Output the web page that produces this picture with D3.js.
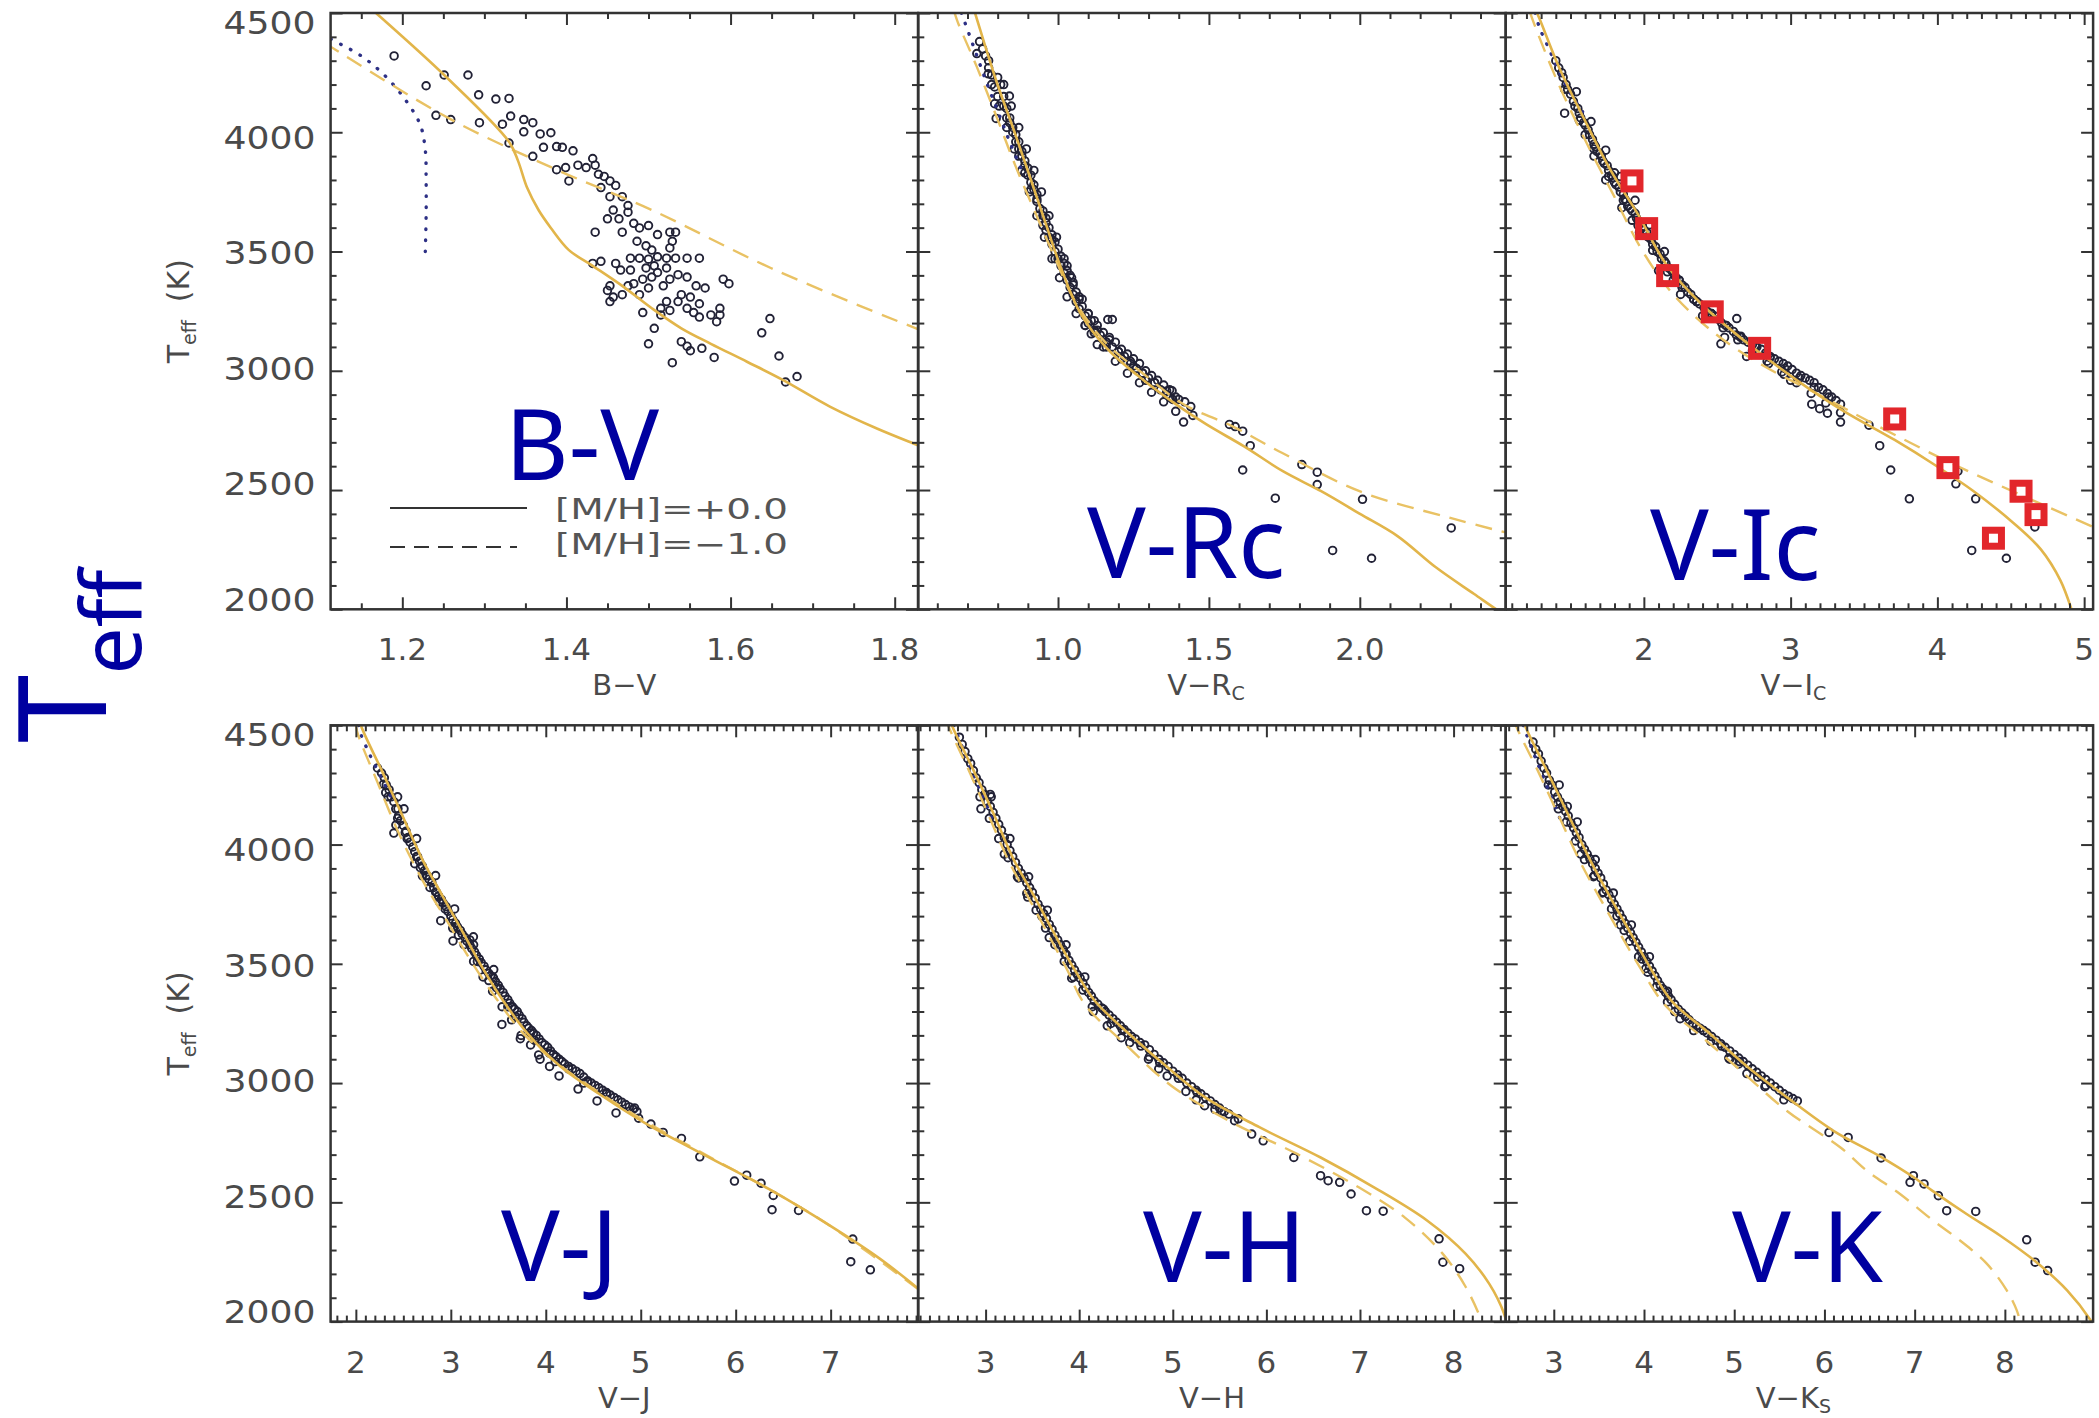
<!DOCTYPE html>
<html><head><meta charset="utf-8">
<script src="https://cdn.jsdelivr.net/npm/d3@7"></script>
<style>body{margin:0;background:#fff;} svg{display:block;}</style>
</head><body>
<svg id="c" width="2099" height="1418"></svg>
<script>
// ---------------- DATA ----------------
const yTicks = [2000, 2500, 3000, 3500, 4000, 4500];
const yTickLabels = ["2000", "2500", "3000", "3500", "4000", "4500"];

const bvTicks = [1.2, 1.4, 1.6, 1.8];
const bvTickLabels = ["1.2", "1.4", "1.6", "1.8"];
const vrTicks = [1.0, 1.5, 2.0];
const vrTickLabels = ["1.0", "1.5", "2.0"];
const viTicks = [2, 3, 4, 5];
const viTickLabels = ["2", "3", "4", "5"];
const vjTicks = [2, 3, 4, 5, 6, 7];
const vjTickLabels = ["2", "3", "4", "5", "6", "7"];
const vhTicks = [3, 4, 5, 6, 7, 8];
const vhTickLabels = ["3", "4", "5", "6", "7", "8"];
const vkTicks = [3, 4, 5, 6, 7, 8];
const vkTickLabels = ["3", "4", "5", "6", "7", "8"];

const legendLabels = ["[M/H]=+0.0", "[M/H]=\u22121.0"];

// B-V
const bvStars = [[1.190,4320],[1.229,4195],[1.241,4071],[1.251,4240],[1.259,4053],[1.280,4240],[1.293,4157],[1.294,4040],[1.314,4139],[1.330,4142],[1.332,4068],[1.322,4034],[1.330,3955],[1.348,4053],[1.348,4002],[1.359,4040],[1.368,3993],[1.372,3937],[1.381,3998],[1.388,3940],[1.395,3937],[1.399,3852],[1.408,3922],[1.359,3899],[1.388,3843],[1.403,3796],[1.414,3862],[1.424,3852],[1.432,3890],[1.435,3862],[1.439,3824],[1.446,3815],[1.453,3796],[1.460,3777],[1.442,3768],[1.453,3730],[1.468,3730],[1.475,3693],[1.457,3674],[1.450,3637],[1.464,3637],[1.475,3665],[1.435,3581],[1.468,3581],[1.482,3618],[1.489,3599],[1.500,3609],[1.511,3571],[1.526,3581],[1.533,3581],[1.486,3543],[1.497,3524],[1.504,3506],[1.526,3515],[1.529,3543],[1.478,3472],[1.489,3472],[1.500,3468],[1.511,3478],[1.522,3472],[1.533,3472],[1.547,3472],[1.562,3472],[1.432,3450],[1.442,3459],[1.460,3450],[1.466,3422],[1.478,3422],[1.497,3431],[1.507,3440],[1.511,3412],[1.522,3431],[1.504,3393],[1.493,3384],[1.482,3365],[1.475,3356],[1.453,3356],[1.450,3337],[1.457,3309],[1.468,3319],[1.453,3290],[1.489,3319],[1.500,3347],[1.518,3356],[1.526,3384],[1.536,3403],[1.547,3393],[1.558,3356],[1.569,3347],[1.591,3384],[1.598,3365],[1.540,3319],[1.551,3309],[1.562,3281],[1.547,3262],[1.555,3244],[1.562,3225],[1.576,3234],[1.587,3262],[1.583,3206],[1.515,3262],[1.526,3253],[1.493,3244],[1.507,3178],[1.515,3234],[1.522,3290],[1.536,3290],[1.500,3113],[1.529,3034],[1.540,3122],[1.547,3103],[1.551,3084],[1.565,3094],[1.580,3056],[1.587,3234],[1.638,3159],[1.648,3219],[1.659,3062],[1.667,2953],[1.681,2976]];
const bvSolid = [[1.155,4540],[1.168,4500],[1.251,4240],[1.330,3960],[1.341,3880],[1.352,3768],[1.366,3674],[1.381,3599],[1.403,3506],[1.432,3440],[1.468,3356],[1.504,3262],[1.540,3178],[1.576,3113],[1.620,3038],[1.663,2963],[1.721,2850],[1.779,2757],[1.826,2691],[1.845,2665]];
const bvDashed = [[1.105,4375],[1.119,4345],[1.257,4058],[1.388,3843],[1.504,3674],[1.649,3431],[1.826,3178],[1.845,3155]];
const bvDotted = [[1.113,4390],[1.150,4320],[1.180,4233],[1.205,4130],[1.222,4030],[1.228,3925],[1.229,3800],[1.229,3650],[1.228,3500]];

// V-Rc
const vrStars = [[0.731,4330],[0.769,4245],[0.839,4152],[0.795,4058],[0.74,4380],[0.76,4320],[0.77,4300],[0.78,4240],[0.80,4230],[0.81,4200],[0.79,4120],[0.82,4150],[0.83,4100],[0.84,4060],[0.85,4020],[0.86,3990],[0.87,3960],[0.87,3930],[0.88,3900],[0.89,3880],[0.90,3850],[0.90,3820],[0.91,3790],[0.92,3760],[0.93,3740],[0.93,3710],[0.94,3680],[0.95,3650],[0.96,3620],[0.96,3590],[0.97,3560],[0.98,3530],[0.99,3500],[1.00,3470],[1.01,3440],[1.02,3410],[1.03,3380],[1.04,3350],[1.05,3320],[1.06,3290],[1.07,3260],[1.09,3230],[1.10,3200],[1.12,3170],[1.14,3150],[1.16,3120],[1.18,3100],[1.20,3080],[1.22,3060],[1.24,3040],[1.26,3010],[1.28,2990],[1.30,2970],[1.32,2950],[1.34,2920],[1.36,2900],[1.38,2880],[1.05,3370],[1.08,3300],[0.95,3610],[0.99,3470],[1.12,3210],[1.15,3100],[1.21,3050],[1.25,3020],[1.29,2960],[1.13,3110],[0.98,3550],[1.03,3420],[0.89,3830],[0.91,3760],[0.83,4060],[0.87,3900],[1.17,3130],[1.11,3155],[1.09,3190],[1.165,3215],[1.18,3215],[1.568,2775],[1.587,2766],[1.612,2747],[1.637,2686],[1.612,2584],[1.720,2466],[1.808,2607],[1.859,2575],[1.859,2523],[1.910,2247],[2.009,2461],[2.039,2214],[2.303,2341],[1.416,2785],[1.447,2813],[1.378,2916],[1.371,2888],
  [0.75,4350],[0.77,4270],[0.79,4190],[0.80,4150],[0.82,4110],[0.84,4040],[0.85,4000],[0.86,3960],[0.88,3920],[0.89,3860],[0.91,3820],[0.92,3780],[0.93,3720],[0.95,3670],[0.96,3640],[0.97,3600],[0.98,3570],[0.99,3540],[1.00,3510],[1.01,3480],[1.02,3450],[1.03,3440],[1.04,3400],[1.05,3360],[1.06,3330],[1.07,3300],[1.08,3270],[1.10,3240],[1.11,3210],[1.13,3190],[1.15,3160],[1.17,3140],[1.19,3120],[1.21,3090],[1.23,3070],[1.25,3050],[1.27,3030],[1.29,3000],[1.31,2980],[1.33,2960],[1.35,2940],[1.37,2920],[1.39,2890],[1.42,2870],[1.44,2850],
  [0.78,4200],[0.805,4110],[0.83,4020],[0.855,3930],[0.88,3840],[0.905,3750],[0.93,3650],[0.955,3560],[0.98,3470],[1.005,3390],[1.03,3310],[1.06,3240],[1.09,3190],[1.12,3160],[1.16,3120],[1.20,3080],[1.24,3030],[1.28,2990],[1.32,2950],[1.36,2915],[1.40,2880],
  [0.82,4200],[0.845,4110],[0.87,4020],[0.895,3930],[0.92,3840],[0.945,3750],[0.97,3650],[0.995,3560],[1.02,3470],[1.045,3390],[1.07,3310],[1.10,3240],[1.13,3170],[1.16,3100],[1.19,3040],[1.23,2990],[1.27,2950],[1.31,2910],[1.35,2870],[1.39,2830]];
const vrSolid = [[0.715,4540],[0.725,4500],[0.795,4217],[0.858,3993],[0.909,3805],[0.959,3618],[1.010,3431],[1.073,3244],[1.162,3094],[1.263,2981],[1.390,2860],[1.492,2775],[1.618,2682],[1.745,2579],[1.872,2495],[1.999,2401],[2.125,2307],[2.252,2176],[2.379,2064],[2.465,1989],[2.49,1970]];
const vrDashed = [[0.655,4510],[0.668,4461],[0.731,4274],[0.807,4030],[0.858,3862],[0.921,3674],[0.985,3487],[1.061,3281],[1.162,3113],[1.289,2981],[1.416,2860],[1.580,2766],[1.745,2654],[1.999,2495],[2.303,2382],[2.49,2320]];
const vrDotted = [[0.68,4500],[0.72,4360],[0.76,4220],[0.80,4090],[0.84,3960],[0.88,3840]];

// V-Ic
const viStars = [[1.42,4270],[1.45,4230],[1.48,4180],[1.52,4130],[1.55,4100],[1.57,4060],[1.60,4030],[1.63,3990],[1.66,3950],[1.68,3920],[1.71,3900],[1.73,3870],[1.76,3840],[1.79,3810],[1.81,3780],[1.84,3750],[1.87,3720],[1.89,3690],[1.92,3670],[1.95,3640],[1.98,3620],[2.00,3590],[2.03,3560],[2.06,3530],[2.09,3500],[2.12,3470],[2.15,3450],[2.19,3420],[2.22,3390],[2.26,3360],[2.30,3330],[2.34,3300],[2.38,3280],[2.43,3250],[2.48,3230],[2.53,3200],[2.58,3180],[2.63,3150],[2.68,3130],[2.74,3110],[2.80,3090],[2.86,3060],[2.92,3040],[2.98,3020],[3.04,2990],[3.10,2970],[3.16,2950],[3.22,2920],[3.28,2890],[3.34,2860],[1.46,4080],[1.66,3900],[1.80,3830],[1.85,3684],[1.92,3631],[2.10,3420],[2.25,3320],[2.40,3230],[2.525,3113],[2.633,3219],[2.955,2985],[3.144,2860],[2.70,3060],[3.00,2960],[2.20,3380],[1.97,3580],[1.74,3800],[1.60,3990],[2.55,3140],[2.85,3030],[3.340,2785],[3.534,2772],[3.607,2686],[3.682,2584],[3.809,2463],[4.126,2526],[4.261,2463],[4.234,2247],[4.470,2214],[4.664,2345],[4.140,2579],[3.198,2841],[3.251,2822],
  [1.40,4300],[1.44,4250],[1.47,4200],[1.50,4160],[1.53,4110],[1.56,4080],[1.59,4040],[1.62,4010],[1.65,3970],[1.67,3940],[1.70,3910],[1.72,3880],[1.75,3860],[1.78,3820],[1.80,3790],[1.83,3770],[1.86,3740],[1.88,3710],[1.91,3680],[1.94,3660],[1.96,3630],[1.99,3600],[2.02,3580],[2.05,3550],[2.08,3520],[2.11,3490],[2.14,3460],[2.17,3430],[2.21,3400],[2.24,3380],[2.28,3350],[2.32,3320],[2.36,3290],[2.41,3265],[2.46,3240],[2.51,3215],[2.56,3190],[2.61,3165],[2.66,3140],[2.71,3120],[2.77,3100],[2.83,3075],[2.89,3050],[2.95,3030],[3.01,3005],[3.07,2980],[3.13,2960],[3.19,2930],[3.25,2905],[3.31,2875],
  [1.46,4180],[1.56,4050],[1.66,3930],[1.76,3815],[1.86,3715],[1.96,3610],[2.06,3505],[2.16,3415],[2.26,3350],[2.36,3290],[2.46,3240],[2.56,3190],[2.66,3145],[2.76,3100],[2.86,3055],[2.96,3010],[3.06,2970],[3.16,2930],[3.26,2890],
  [1.54,4170],[1.64,4045],[1.74,3925],[1.84,3815],[1.94,3715],[2.04,3612],[2.14,3500],[2.24,3380],[2.34,3300],[2.44,3240],[2.54,3180],[2.64,3130],[2.74,3085],[2.84,3040],[2.94,2995],[3.04,2950],[3.14,2905],[3.24,2865],[3.34,2825]];
const viSolid = [[1.25,4530],[1.287,4479],[1.421,4274],[1.583,4068],[1.771,3843],[1.960,3656],[2.148,3450],[2.390,3281],[2.713,3112],[3.036,2963],[3.359,2832],[3.709,2710],[3.978,2607],[4.247,2495],[4.516,2363],[4.705,2251],[4.839,2120],[4.920,1989],[4.93,1970]];
const viDashed = [[1.22,4510],[1.260,4442],[1.421,4199],[1.610,3955],[1.798,3731],[1.987,3506],[2.202,3319],[2.498,3150],[2.821,3019],[3.171,2907],[3.574,2775],[4.113,2607],[4.651,2457],[5.08,2340]];
const viDotted = [[1.26,4500],[1.287,4442],[1.354,4349],[1.421,4255],[1.502,4161],[1.583,4086]];
const viSquares = [[1.919,3796],[2.019,3596],[2.162,3399],[2.466,3247],[2.789,3094],[3.709,2798],[4.072,2594],[4.570,2495],[4.672,2397],[4.382,2298]];

// V-J
const vjStars = [[2.228,4321],[2.292,4253],[2.314,4218],[2.443,4150],[2.507,4150],[2.421,4082],[2.400,4048],[2.529,4056],[2.679,3903],[2.701,3869],[2.872,3783],[2.894,3681],[3.023,3596],[3.238,3613],[3.452,3476],[3.538,3246],[3.732,3186],[3.925,3118],[4.935,2896],[4.978,2853],[5.107,2828],[5.236,2793],[5.429,2768],[5.622,2691],[5.987,2589],[6.116,2614],[6.267,2580],[6.396,2529],[6.383,2469],[6.662,2466],[7.233,2346],[7.212,2251],[7.418,2217],[2.30,4280],[2.35,4230],[2.40,4180],[2.45,4120],[2.50,4080],[2.55,4030],[2.60,3990],[2.65,3950],[2.70,3910],[2.75,3870],[2.80,3840],[2.85,3800],[2.90,3770],[2.95,3740],[3.00,3700],[3.05,3670],[3.10,3640],[3.15,3610],[3.20,3580],[3.25,3550],[3.30,3520],[3.35,3490],[3.40,3460],[3.45,3440],[3.50,3410],[3.55,3380],[3.60,3350],[3.65,3320],[3.70,3300],[3.75,3270],[3.80,3240],[3.85,3220],[3.90,3200],[3.96,3170],[4.02,3150],[4.08,3120],[4.14,3100],[4.20,3080],[4.28,3060],[4.36,3040],[4.44,3010],[4.52,2990],[4.60,2970],[4.68,2950],[4.76,2930],[4.84,2910],[4.92,2890],[2.62,3920],[2.88,3760],[3.08,3620],[3.28,3510],[3.48,3400],[3.68,3280],[3.88,3180],[4.10,3090],[4.40,3000],[3.20,3600],[3.02,3650],[2.78,3820],[3.40,3430],[3.60,3320],
  [2.27,4300],[2.32,4250],[2.37,4200],[2.42,4150],[2.47,4100],[2.52,4050],[2.57,4010],[2.62,3970],[2.67,3930],[2.72,3890],[2.77,3855],[2.82,3820],[2.87,3785],[2.92,3755],[2.97,3720],[3.02,3685],[3.07,3655],[3.12,3625],[3.17,3595],[3.22,3565],[3.27,3535],[3.32,3505],[3.37,3475],[3.42,3450],[3.47,3425],[3.52,3395],[3.57,3365],[3.62,3335],[3.67,3310],[3.72,3285],[3.77,3255],[3.82,3230],[3.87,3210],[3.93,3185],[3.99,3160],[4.05,3135],[4.11,3110],[4.17,3090],[4.24,3070],[4.32,3050],[4.40,3025],[4.48,3000],[4.56,2980],[4.64,2960],[4.72,2940],[4.80,2920],[4.88,2900],[4.96,2880],
  [2.34,4200],[2.54,4025],[2.74,3870],[2.94,3730],[3.14,3580],[3.34,3445],[3.54,3320],[3.74,3200],[3.94,3100],[4.14,3030],[4.34,2975],[4.54,2925],[4.74,2875],[2.44,4110],[2.64,3950],[2.84,3800],[3.04,3655],[3.24,3510],[3.44,3385],[3.64,3265],[3.84,3160],[4.04,3070],
  [2.44,4200],[2.64,4025],[2.84,3870],[3.04,3730],[3.24,3580],[3.44,3445],[3.64,3320],[3.84,3210],[4.04,3125],[4.24,3060],[4.44,3005],[4.64,2955]];
const vjSolid = [[2.04,4530],[2.056,4497],[2.271,4312],[2.486,4125],[2.701,3937],[2.915,3783],[3.130,3630],[3.345,3476],[3.560,3340],[3.818,3203],[4.161,3067],[4.591,2947],[5.064,2828],[5.708,2691],[6.353,2555],[6.997,2401],[7.513,2265],[7.95,2130]];
const vjDashed = [[2.00,4510],[2.013,4474],[2.228,4261],[2.443,4056],[2.701,3851],[2.958,3681],[3.216,3510],[3.474,3357],[3.775,3203],[4.118,3084],[4.548,2964],[5.064,2836],[5.708,2694],[6.353,2555],[6.997,2401],[7.95,2128]];
const vjDotted = [[2.03,4500],[2.034,4483],[2.142,4381],[2.271,4278],[2.378,4193]];

// V-H
const vhStars = [[2.75,4420],[2.81,4360],[2.87,4310],[2.93,4260],[2.99,4210],[3.05,4160],[3.11,4110],[3.17,4060],[3.23,4000],[3.29,3950],[3.35,3900],[3.41,3860],[3.47,3820],[3.53,3775],[3.59,3730],[3.65,3690],[3.71,3645],[3.77,3600],[3.83,3560],[3.89,3515],[3.95,3475],[4.01,3440],[4.07,3400],[4.13,3365],[4.20,3330],[4.28,3300],[4.36,3270],[4.44,3240],[4.52,3210],[4.60,3185],[4.70,3160],[4.80,3120],[4.90,3085],[5.00,3050],[5.10,3020],[5.20,2985],[5.30,2955],[5.40,2925],[5.50,2895],[5.60,2870],[5.70,2850],[2.95,4150],[3.20,3960],[3.45,3780],[3.68,3610],[3.92,3440],[4.15,3300],[4.45,3190],[4.85,3060],[5.25,2930],[3.05,4210],[3.35,3860],[3.60,3700],[3.85,3540],[4.30,3240],[4.75,3110],[5.45,2890],[5.66,2842],[5.52,2883],[5.843,2786],[5.966,2758],[6.293,2688],[6.579,2612],[6.660,2591],[6.783,2584],[6.905,2535],[7.069,2465],[7.248,2463],[7.845,2347],[7.886,2249],[8.065,2222],
  [2.72,4450],[2.78,4390],[2.84,4340],[2.90,4280],[2.96,4230],[3.02,4180],[3.08,4135],[3.14,4085],[3.20,4030],[3.26,3975],[3.32,3925],[3.38,3880],[3.44,3840],[3.50,3800],[3.56,3750],[3.62,3710],[3.68,3665],[3.74,3620],[3.80,3580],[3.86,3540],[3.92,3495],[3.98,3455],[4.04,3420],[4.10,3380],[4.16,3345],[4.24,3315],[4.32,3285],[4.40,3255],[4.48,3225],[4.56,3195],[4.65,3170],[4.75,3140],[4.85,3100],[4.95,3070],[5.05,3035],[5.15,3000],[5.25,2970],[5.35,2940],[5.45,2910],[5.55,2880],
  [2.94,4200],[3.14,4025],[3.34,3865],[3.54,3725],[3.74,3580],[3.94,3445],[4.14,3320],[4.34,3250],[4.54,3170],[4.74,3100],[4.94,3030],[5.14,2965],[5.34,2905],[3.04,4110],[3.24,3945],[3.44,3795],[3.64,3650],[3.84,3510],[4.04,3390],
  [3.06,4200],[3.26,4025],[3.46,3865],[3.66,3725],[3.86,3580],[4.06,3445],[4.26,3310],[4.46,3225],[4.66,3155],[4.86,3085],[5.06,3020],[5.26,2960]];
const vhSolid = [[2.62,4530],[2.64,4500],[2.87,4312],[3.09,4125],[3.30,3937],[3.52,3783],[3.73,3630],[3.95,3476],[4.17,3343],[4.54,3204],[4.95,3064],[5.35,2939],[5.93,2814],[6.58,2688],[7.15,2563],[7.72,2423],[8.13,2284],[8.38,2159],[8.54,2033],[8.57,1985]];
const vhDashed = [[2.58,4530],[2.60,4500],[2.82,4312],[3.03,4125],[3.24,3937],[3.45,3783],[3.66,3630],[3.87,3476],[4.06,3330],[4.50,3160],[4.98,2990],[5.598,2842],[6.333,2702],[6.987,2563],[7.477,2437],[7.885,2284],[8.130,2145],[8.294,2005],[8.30,1985]];
const vhDotted = [[2.66,4500],[2.80,4360],[2.95,4220],[3.10,4080]];

// V-Ks
const vkStars = [[2.80,4400],[2.86,4350],[2.92,4300],[2.98,4250],[3.04,4200],[3.10,4160],[3.16,4120],[3.22,4070],[3.28,4030],[3.34,3980],[3.40,3940],[3.46,3900],[3.52,3860],[3.58,3810],[3.64,3770],[3.70,3730],[3.76,3690],[3.82,3650],[3.88,3610],[3.94,3570],[4.00,3530],[4.06,3490],[4.12,3450],[4.18,3410],[4.24,3380],[4.30,3350],[4.38,3310],[4.46,3280],[4.54,3250],[4.62,3230],[4.70,3210],[4.80,3180],[4.90,3150],[5.00,3120],[5.10,3090],[5.20,3060],[5.30,3030],[5.40,3000],[5.50,2970],[5.60,2945],[5.70,2925],[3.05,4150],[3.30,3960],[3.55,3800],[3.78,3640],[4.02,3480],[4.26,3340],[4.55,3220],[4.95,3100],[5.35,2990],[3.15,4160],[3.45,3870],[3.70,3700],[3.98,3520],[4.40,3270],[5.05,3080],[5.55,2930],[6.051,2793],[6.263,2772],[6.628,2686],[6.986,2612],[6.949,2584],[7.104,2577],[7.263,2528],[7.355,2465],[7.677,2462],[8.242,2343],[8.335,2249],[8.475,2214],
  [2.77,4430],[2.83,4380],[2.89,4320],[2.95,4270],[3.01,4220],[3.07,4180],[3.13,4140],[3.19,4090],[3.25,4050],[3.31,4000],[3.37,3960],[3.43,3920],[3.49,3880],[3.55,3835],[3.61,3790],[3.67,3750],[3.73,3710],[3.79,3670],[3.85,3630],[3.91,3590],[3.97,3550],[4.03,3510],[4.09,3470],[4.15,3430],[4.21,3395],[4.27,3365],[4.34,3330],[4.42,3295],[4.50,3265],[4.58,3240],[4.66,3220],[4.75,3195],[4.85,3165],[4.95,3135],[5.05,3105],[5.15,3075],[5.25,3045],[5.35,3015],[5.45,2985],[5.55,2955],[5.65,2935],
  [2.94,4250],[3.14,4095],[3.34,3937],[3.54,3797],[3.74,3663],[3.94,3530],[4.14,3405],[4.34,3300],[4.54,3245],[4.74,3175],[4.94,3105],[5.14,3040],[5.34,2985],[3.04,4170],[3.24,4015],[3.44,3865],[3.64,3730],[3.84,3595],[4.04,3465],
  [3.06,4250],[3.26,4095],[3.46,3937],[3.66,3797],[3.86,3663],[4.06,3530],[4.26,3385],[4.46,3280],[4.66,3220],[4.86,3155],[5.06,3090],[5.26,3025]];
const vkSolid = [[2.66,4530],[2.68,4500],[2.92,4312],[3.16,4125],[3.40,3937],[3.62,3783],[3.85,3630],[4.08,3476],[4.31,3343],[4.74,3204],[5.16,3064],[5.59,2939],[6.10,2800],[6.63,2690],[6.99,2605],[7.21,2545],[7.58,2450],[7.95,2360],[8.33,2255],[8.69,2131],[8.95,2006],[8.98,1985]];
const vkDashed = [[2.56,4530],[2.58,4500],[2.82,4312],[3.05,4125],[3.28,3937],[3.50,3783],[3.73,3630],[3.97,3476],[4.229,3329],[4.653,3190],[5.076,3051],[5.585,2883],[6.178,2730],[6.469,2633],[6.838,2535],[7.207,2423],[7.503,2340],[7.799,2243],[8.021,2131],[8.132,2047],[8.168,1998],[8.17,1985]];
const vkDotted = [[2.66,4500],[2.80,4360],[2.95,4220],[3.10,4080]];

// ---------------- LAYOUT / STYLE ----------------
const W = 587.4, H = 596.3;
const lefts = [330.6, 918.3, 1505.7];
const tops = [13, 725.3];
const GOLD = "#E2B54A", GOLD2 = "#E9C264", INK = "#333", LBL = "#4a4a4a", BLUE = "#0000A0";

const panels = [
  {row:0,col:0,xd:[1.1126,1.8284],stars:bvStars,solid:bvSolid,dashed:bvDashed,dotted:bvDotted,ticks:bvTicks,tl:bvTickLabels,minor:0.05,title:["B\u2212V",""],big:"B-V",bx:505,by:480},
  {row:0,col:1,xd:[0.537,2.4835],stars:vrStars,solid:vrSolid,dashed:vrDashed,dotted:vrDotted,ticks:vrTicks,tl:vrTickLabels,minor:0.1,title:["V\u2212R","C"],big:"V-Rc",bx:1087,by:578},
  {row:0,col:2,xd:[1.0586,5.061],stars:viStars,solid:viSolid,dashed:viDashed,dotted:viDotted,ticks:viTicks,tl:viTickLabels,minor:0.1,title:["V\u2212I","C"],big:"V-Ic",bx:1650,by:580,squares:viSquares},
  {row:1,col:0,xd:[1.734,7.92],stars:vjStars,solid:vjSolid,dashed:vjDashed,dotted:vjDotted,ticks:vjTicks,tl:vjTickLabels,minor:0.1,title:["V\u2212J",""],big:"V-J",bx:501,by:1281},
  {row:1,col:1,xd:[2.281,8.557],stars:vhStars,solid:vhSolid,dashed:vhDashed,dotted:vhDotted,ticks:vhTicks,tl:vhTickLabels,minor:0.1,title:["V\u2212H",""],big:"V-H",bx:1143,by:1282},
  {row:1,col:2,xd:[2.467,8.978],stars:vkStars,solid:vkSolid,dashed:vkDashed,dotted:vkDotted,ticks:vkTicks,tl:vkTickLabels,minor:0.1,title:["V\u2212K","S"],big:"V-K",bx:1732,by:1282}
];

const svg = d3.select("#c");
svg.append("rect").attr("width",2099).attr("height",1418).attr("fill","#fff");
const defs = svg.append("defs");

function minorVals(d, step, majors) {
  const a = Math.ceil(d[0]/step - 1e-9), b = Math.floor(d[1]/step + 1e-9);
  return d3.range(a, b+1).map(i => +(i*step).toFixed(4)).filter(v => !majors.some(m => Math.abs(m-v) < 1e-6));
}
function styleTicks(sel){ sel.select(".domain").remove(); sel.selectAll("line").attr("stroke",INK).attr("stroke-width",2); }

panels.forEach((p, i) => {
  const L = lefts[p.col], T = tops[p.row];
  const x = d3.scaleLinear().domain(p.xd).range([L, L+W]);
  const y = d3.scaleLinear().domain([2000, 4500]).range([T+H, T]);
  const id = "clip"+i;
  defs.append("clipPath").attr("id", id).append("rect").attr("x",L).attr("y",T).attr("width",W).attr("height",H);
  const g = svg.append("g");
  const inner = g.append("g").attr("clip-path", `url(#${id})`);

  inner.append("g").selectAll("circle").data(p.stars).join("circle")
    .attr("cx", d => x(d[0])).attr("cy", d => y(d[1])).attr("r", 3.8)
    .attr("fill","none").attr("stroke","#222236").attr("stroke-width",1.9);

  const line = d3.line().x(d => x(d[0])).y(d => y(d[1])).curve(d3.curveCatmullRom.alpha(0.5));
  inner.append("path").datum(p.dotted).attr("d", line).attr("fill","none")
    .attr("stroke","#2d3085").attr("stroke-width",3.4).attr("stroke-linecap","round").attr("stroke-dasharray","0.5,10.5");
  inner.append("path").datum(p.dashed).attr("d", line).attr("fill","none")
    .attr("stroke",GOLD2).attr("stroke-width",2.4).attr("stroke-dasharray","17,10");
  inner.append("path").datum(p.solid).attr("d", line).attr("fill","none")
    .attr("stroke",GOLD).attr("stroke-width",2.6);

  if (p.squares) {
    inner.append("g").selectAll("rect").data(p.squares).join("rect")
      .attr("x", d => x(d[0]) - 8).attr("y", d => y(d[1]) - 8).attr("width",16).attr("height",16)
      .attr("fill","none").attr("stroke","#E2262B").attr("stroke-width",7);
  }

  // frame
  g.append("rect").attr("x",L).attr("y",T).attr("width",W).attr("height",H)
    .attr("fill","none").attr("stroke",INK).attr("stroke-width",2.5);

  // ticks (inward, on all four sides)
  const mv = minorVals(p.xd, p.minor, p.ticks);
  [[d3.axisBottom, T+H],[d3.axisTop, T]].forEach(([ax, yy]) => {
    g.append("g").attr("transform",`translate(0,${yy})`).call(ax(x).tickValues(p.ticks).tickSize(-12).tickFormat("")).call(styleTicks);
    g.append("g").attr("transform",`translate(0,${yy})`).call(ax(x).tickValues(mv).tickSize(-6).tickFormat("")).call(styleTicks);
  });
  const ymv = minorVals([2000,4500], 100, yTicks);
  [[d3.axisLeft, L],[d3.axisRight, L+W]].forEach(([ax, xx]) => {
    g.append("g").attr("transform",`translate(${xx},0)`).call(ax(y).tickValues(yTicks).tickSize(-12).tickFormat("")).call(styleTicks);
    g.append("g").attr("transform",`translate(${xx},0)`).call(ax(y).tickValues(ymv).tickSize(-6).tickFormat("")).call(styleTicks);
  });

  // x tick labels
  g.append("g").selectAll("text").data(p.ticks).join("text")
    .attr("x", d => x(d)).attr("y", T+H+51).attr("text-anchor","middle")
    .attr("font-family","DejaVu Sans").attr("font-size",31).attr("fill",LBL)
    .text((d, k) => p.tl[k]);

  // axis title
  const tt = g.append("text").attr("x", L+W/2 - (p.title[1] ? 6 : 0)).attr("y", T+H+86).attr("text-anchor","middle")
    .attr("font-family","DejaVu Sans").attr("font-size",29).attr("fill",LBL);
  tt.append("tspan").text(p.title[0]);
  if (p.title[1]) tt.append("tspan").attr("font-size",19).attr("dy",5).text(p.title[1]);

  // y labels + title for left column
  if (p.col === 0) {
    const yl = d3.scaleLinear().domain([2000,4500]).range([T+H-10, T+9]);
    g.append("g").selectAll("text").data(yTicks).join("text")
      .attr("x", L-15).attr("y", d => yl(d)).attr("dy","0.36em").attr("text-anchor","end")
      .attr("font-family","DejaVu Sans").attr("font-size",32).attr("fill",LBL)
      .attr("textLength",92).attr("lengthAdjust","spacingAndGlyphs")
      .text((d, k) => yTickLabels[k]);
    const yt = g.append("text").attr("transform",`translate(189,${T+H/2}) rotate(-90)`).attr("text-anchor","middle")
      .attr("font-family","DejaVu Sans").attr("font-size",30).attr("fill",LBL);
    yt.append("tspan").text("T");
    yt.append("tspan").attr("font-size",19).attr("dy",7).text("eff");
    yt.append("tspan").attr("dy",-7).attr("dx",18).text("(K)");
  }

  // big blue label
  g.append("text").attr("x",p.bx).attr("y",p.by).attr("font-family","Noto Sans").attr("font-size",98)
    .attr("fill",BLUE).text(p.big);
});

// legend (B-V panel)
const lg = svg.append("g");
lg.append("line").attr("x1",390).attr("x2",527).attr("y1",508).attr("y2",508).attr("stroke","#333").attr("stroke-width",2.2);
lg.append("line").attr("x1",390).attr("x2",517).attr("y1",547).attr("y2",547).attr("stroke","#333").attr("stroke-width",2.2).attr("stroke-dasharray","15,9");
lg.selectAll("text").data(legendLabels).join("text")
  .attr("x",555).attr("y",(d,k) => k === 0 ? 519 : 554)
  .attr("font-family","DejaVu Sans").attr("font-size",28).attr("fill","#555")
  .attr("textLength",233).attr("lengthAdjust","spacingAndGlyphs").text(d => d);

// big Teff
const big = svg.append("text").attr("transform","translate(106,743) rotate(-90)")
  .attr("font-family","Noto Sans").attr("font-size",123).attr("fill",BLUE);
big.append("tspan").text("T");
big.append("tspan").attr("font-size",84).attr("dy",35).text("eff");
</script>
</body></html>
